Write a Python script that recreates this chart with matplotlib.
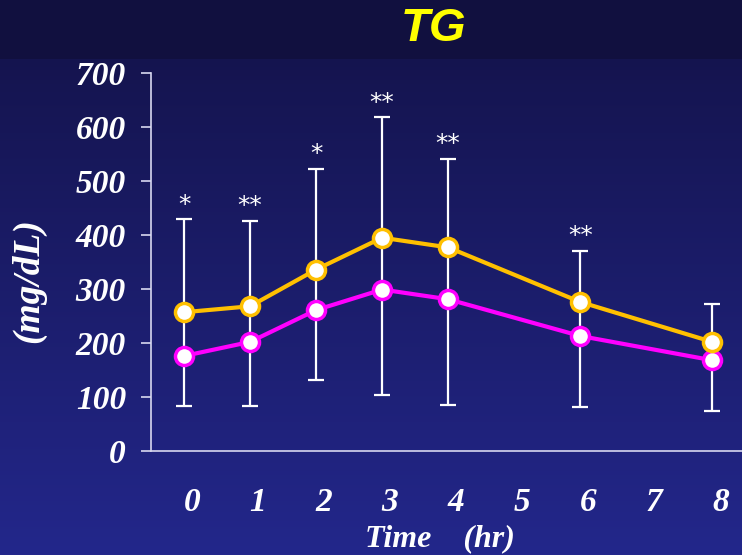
import matplotlib
matplotlib.use("Agg")
import matplotlib.pyplot as plt
import matplotlib.transforms as mtransforms
import numpy as np

hours = [0, 1, 2, 3, 4, 6, 8]
tg_yellow = [257, 268, 336, 395, 377, 276, 202]
tg_magenta = [176, 202, 261, 299, 281, 213, 168]
err_upper = [429, 426, 522, 618, 541, 370, 273]
err_lower = [84, 84, 132, 103, 85, 81, 74]
stars = ["*", "**", "*", "**", "**", "**", ""]
xtick_vals = list(range(9))
ytick_vals = list(range(0, 701, 100))

serif = "Liberation Serif"

fig = plt.figure(figsize=(7.42, 5.55), dpi=100)

# background gradient, slightly darker band behind the title
bg = fig.add_axes([0, 0, 1, 1], zorder=-10)
grad = np.linspace(0, 1, 256).reshape(-1, 1)
top = np.array([0x13, 0x12, 0x48]) / 255
bot = np.array([0x23, 0x27, 0x8b]) / 255
img = (top + (bot - top) * grad[:, :, None]).reshape(256, 1, 3)
bg.imshow(img, aspect="auto", extent=[0, 1, 0, 1], origin="upper")
bg.add_patch(plt.Rectangle((0, 1 - 59 / 555), 1, 59 / 555, color="#11103f", lw=0))
bg.set_xlim(0, 1)
bg.set_ylim(0, 1)
bg.axis("off")

ax = fig.add_axes([151 / 742, 104 / 555, 591 / 742, 378 / 555])
ax.patch.set_alpha(0)

y = np.array(tg_yellow)
ax.errorbar(hours, y, yerr=[y - np.array(err_lower), np.array(err_upper) - y],
            fmt="none", ecolor="white", elinewidth=1.6, capsize=6, capthick=1.6, zorder=2)

ax.plot(hours, tg_yellow, color="#ffc000", lw=3, marker="o", ms=13,
        mfc="white", mec="#ffc000", mew=2.5, zorder=4)
ax.plot(hours, tg_magenta, color="#ff00ff", lw=3, marker="o", ms=13,
        mfc="white", mec="#ff00ff", mew=2.5, zorder=3)

for h, up, s in zip(hours, err_upper, stars):
    if s:
        ax.annotate(s, (h, up), xytext=(0, 2), textcoords="offset points",
                    ha="center", va="bottom", color="white", fontsize=18,
                    family="DejaVu Sans")

ax.set_xlim(-0.5, 8.45)
ax.set_ylim(0, 700)
ax.set_xticks(xtick_vals)
ax.set_xticklabels([str(v) for v in xtick_vals])
ax.set_yticks(ytick_vals)
ax.set_yticklabels([str(v) for v in ytick_vals])

for sp in ["top", "right"]:
    ax.spines[sp].set_visible(False)
for sp in ["left", "bottom"]:
    ax.spines[sp].set_color("#d8d8f0")
    ax.spines[sp].set_linewidth(1.2)

ax.tick_params(axis="y", direction="out", length=7, width=1.2, color="#d8d8f0",
               pad=11, labelcolor="white")
ax.tick_params(axis="x", length=0, pad=26, labelcolor="white")
for lab in ax.get_xticklabels() + ax.get_yticklabels():
    lab.set_fontfamily(serif)
    lab.set_fontweight("bold")
    lab.set_fontstyle("italic")
    lab.set_fontsize(24)
shift = mtransforms.ScaledTranslation(8 / 100, 0, fig.dpi_scale_trans)
for lab in ax.get_xticklabels():
    lab.set_transform(lab.get_transform() + shift)

fig.text(433 / 742, 1 - 29 / 555, "TG", color="#ffff00", fontsize=34,
         fontweight="bold", fontstyle="italic", family="Liberation Sans",
         ha="center", va="center")
fig.text(440 / 742, 1 - 539 / 555, "Time    (hr)", color="white", fontsize=23,
         fontweight="bold", fontstyle="italic", family=serif,
         ha="center", va="center")
fig.text(29 / 742, 1 - 281 / 555, "(mg/dL)", color="white", fontsize=27,
         fontweight="bold", fontstyle="italic", family=serif,
         ha="center", va="center", rotation=90)

fig.savefig("out.png", dpi=100)
